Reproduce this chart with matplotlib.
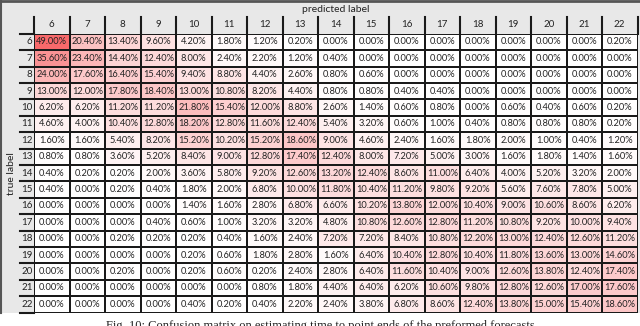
import numpy as np
import matplotlib
matplotlib.use("Agg")
import matplotlib.pyplot as plt
from matplotlib.colors import LinearSegmentedColormap
from matplotlib.patches import Rectangle

labels = [str(i) for i in range(6, 23)]

# confusion matrix in percent, rows = true label, cols = predicted label
cm = np.array([
    [49.0, 20.4, 13.4, 9.6, 4.2, 1.8, 1.2, 0.2, 0.0, 0.0, 0.0, 0.0, 0.0, 0.0, 0.0, 0.0, 0.2],
    [35.6, 23.4, 14.4, 12.4, 8.0, 2.4, 2.2, 1.2, 0.4, 0.0, 0.0, 0.0, 0.0, 0.0, 0.0, 0.0, 0.0],
    [24.0, 17.6, 16.4, 15.4, 9.4, 8.8, 4.4, 2.6, 0.8, 0.6, 0.0, 0.0, 0.0, 0.0, 0.0, 0.0, 0.0],
    [13.0, 12.0, 17.8, 18.4, 13.0, 10.8, 8.2, 4.4, 0.8, 0.8, 0.4, 0.4, 0.0, 0.0, 0.0, 0.0, 0.0],
    [6.2, 6.2, 11.2, 11.2, 21.8, 15.4, 12.0, 8.8, 2.6, 1.4, 0.6, 0.8, 0.0, 0.6, 0.4, 0.6, 0.2],
    [4.6, 4.0, 10.4, 12.8, 18.2, 12.8, 11.6, 12.4, 5.4, 3.2, 0.6, 1.0, 0.4, 0.8, 0.8, 0.8, 0.2],
    [1.6, 1.6, 5.4, 8.2, 15.2, 10.2, 15.2, 18.6, 9.0, 4.6, 2.4, 1.6, 1.8, 2.0, 1.0, 0.4, 1.2],
    [0.8, 0.8, 3.6, 5.2, 8.4, 9.0, 12.8, 17.4, 12.4, 8.0, 7.2, 5.0, 3.0, 1.6, 1.8, 1.4, 1.6],
    [0.4, 0.2, 0.2, 2.0, 3.6, 5.8, 9.2, 12.6, 13.2, 12.4, 8.6, 11.0, 6.4, 4.0, 5.2, 3.2, 2.0],
    [0.4, 0.0, 0.2, 0.4, 1.8, 2.0, 6.8, 10.0, 11.8, 10.4, 11.2, 9.8, 9.2, 5.6, 7.6, 7.8, 5.0],
    [0.0, 0.0, 0.0, 0.0, 1.4, 1.6, 2.8, 6.8, 6.6, 10.2, 13.8, 12.0, 10.4, 9.0, 10.6, 8.6, 6.2],
    [0.0, 0.0, 0.0, 0.4, 0.6, 1.0, 3.2, 3.2, 4.8, 10.8, 12.6, 12.8, 11.2, 10.8, 9.2, 10.0, 9.4],
    [0.0, 0.0, 0.2, 0.2, 0.2, 0.4, 1.6, 2.4, 7.2, 7.2, 8.4, 10.8, 12.2, 13.0, 12.4, 12.6, 11.2],
    [0.0, 0.0, 0.0, 0.0, 0.2, 0.6, 1.8, 2.8, 1.6, 6.4, 10.4, 12.8, 10.4, 11.8, 13.6, 13.0, 14.6],
    [0.0, 0.0, 0.2, 0.0, 0.2, 0.6, 0.2, 2.4, 2.8, 6.4, 11.6, 10.4, 9.0, 12.6, 13.8, 12.4, 17.4],
    [0.0, 0.0, 0.0, 0.0, 0.0, 0.0, 0.8, 1.8, 4.4, 6.4, 6.2, 10.6, 9.8, 12.8, 12.6, 17.0, 17.6],
    [0.0, 0.0, 0.0, 0.0, 0.4, 0.2, 0.4, 2.2, 2.4, 3.8, 6.8, 8.6, 12.4, 13.8, 15.0, 15.4, 18.6],
])

W, H = 640, 326
fig = plt.figure(figsize=(W / 100, H / 100), dpi=100)
fig.patch.set_facecolor("white")

# grey sheet background
fig.add_artist(Rectangle((0, 13 / H), 1, 1 - 13 / H, transform=fig.transFigure,
                         facecolor="#e8e8e8", edgecolor="none", zorder=0))
fig.add_artist(plt.Line2D([0, 1], [1 - 1 / H, 1 - 1 / H], transform=fig.transFigure,
                          color="#555555", lw=2, zorder=1))
fig.add_artist(plt.Line2D([1 / W, 1 / W], [13 / H, 1], transform=fig.transFigure,
                          color="#555555", lw=1.5, zorder=1))

x0, x1 = 34, 637.5
y0, y1 = 33.8, 312.5
ax = fig.add_axes([x0 / W, 1 - y1 / H, (x1 - x0) / W, (y1 - y0) / H])
ax.set_zorder(2)

cmap = LinearSegmentedColormap.from_list("wr", ["#ffffff", "#f8696b"])
n = len(labels)
ax.pcolormesh(np.arange(n + 1) - 0.5, np.arange(n + 1) - 0.5, cm, cmap=cmap,
              vmin=0, vmax=cm.max(), edgecolors="#1a1a1a", linewidth=1.1)
ax.set_xlim(-0.5, n - 0.5)
ax.set_ylim(n - 0.5, -0.5)
ax.set_axis_off()

font = "Lato"
for i in range(n):
    for j in range(n):
        ax.text(j, i, f"{cm[i, j]:.2f}%", ha="center", va="center",
                fontsize=6.7, family=font, color="#222222")

# column headers and separators
for j, lab in enumerate(labels):
    ax.text(j, -1.05, lab, ha="center", va="center", fontsize=7, family=font,
            color="#222222", clip_on=False)
for j in range(n + 1):
    ax.plot([j - 0.5, j - 0.5], [-1.5, -0.5], color="#1a1a1a", lw=1.5, clip_on=False)

# row headers and separators
cw = (x1 - x0) / n
for i, lab in enumerate(labels):
    ax.text(-0.5 - 1.5 / cw, i, lab, ha="right", va="center", fontsize=7, family=font,
            color="#222222", clip_on=False)
for i in range(n + 1):
    ax.plot([-0.5 - 14 / cw, -0.5], [i - 0.5, i - 0.5], color="#1a1a1a", lw=1.5,
            clip_on=False)

ax.text((n - 1) / 2, -2.0, "predicted label", ha="center", va="center",
        fontsize=7.5, family=font, color="#222222", clip_on=False)
ax.text(-0.5 - 23 / cw, (n - 1) / 2, "true label", ha="center", va="center",
        rotation=90, fontsize=7.5, family=font, color="#222222", clip_on=False)

fig.text(0.5, -3 / H, "Fig. 10: Confusion matrix on estimating time to point ends of the preformed forecasts",
         ha="center", va="baseline", fontsize=9, family="Liberation Serif", color="#222222")

fig.savefig("out.png", dpi=100)
